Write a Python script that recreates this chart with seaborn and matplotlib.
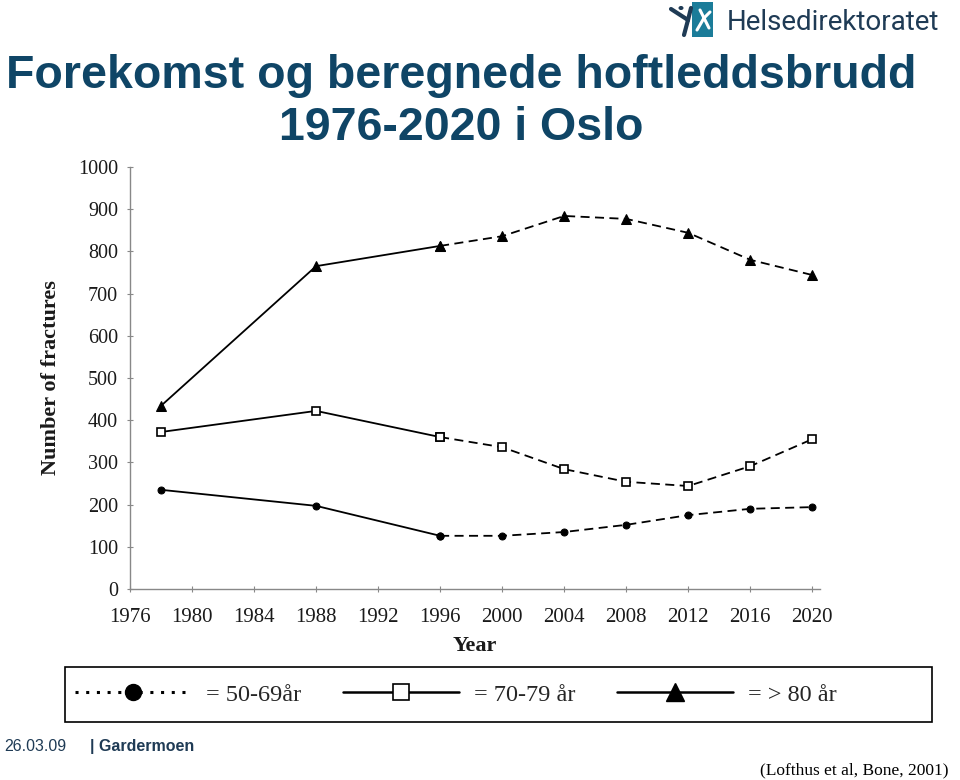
import matplotlib
matplotlib.use("Agg")
import matplotlib.pyplot as plt
import seaborn as sns
import pandas as pd
from matplotlib.lines import Line2D
from matplotlib.patches import Rectangle, Circle

# ---- data ----
years = [1978, 1988, 1996, 2000, 2004, 2008, 2012, 2016, 2020]
age_50_69 = [235, 197, 126, 126, 135, 152, 175, 190, 194]
age_70_79 = [372, 422, 360, 336, 284, 254, 244, 291, 355]
age_80_plus = [434, 765, 813, 836, 884, 877, 844, 780, 744]
last_observed_year = 1996
x_ticks = list(range(1976, 2021, 4))
y_ticks = list(range(0, 1001, 100))
legend_labels = ["= 50-69år", "= 70-79 år", "= > 80 år"]

sns.set_theme(style="white")
plt.rcParams["font.family"] = ["Liberation Sans", "DejaVu Sans"]

W, H = 960, 780
fig = plt.figure(figsize=(9.6, 7.8), dpi=100)
ax = fig.add_axes([0.1354, 0.2449, 0.7188, 0.5410])


def fx(px):
    return px / W


def fy(py):
    return 1 - py / H


NAVY = "#0f4566"
DARK = "#1f3b55"
series = [
    (age_50_69, dict(marker="o", markersize=5, markerfacecolor="black", markeredgecolor="black")),
    (age_70_79, dict(marker="s", markersize=6, markerfacecolor="white", markeredgecolor="black", markeredgewidth=1.2)),
    (age_80_plus, dict(marker="^", markersize=6.5, markerfacecolor="black", markeredgecolor="black")),
]
for vals, mk in series:
    df = pd.DataFrame({"year": years, "n": vals})
    obs = df[df.year <= last_observed_year]
    proj = df[df.year >= last_observed_year]
    sns.lineplot(data=obs, x="year", y="n", ax=ax, color="black", linewidth=1.3,
                 linestyle="-", **mk)
    sns.lineplot(data=proj, x="year", y="n", ax=ax, color="black", linewidth=1.3,
                 **mk).lines[-1].set_dashes((5, 3))

ax.set_xlim(1976, 2020.5)
ax.set_ylim(0, 1000)
ax.set_xticks(x_ticks)
ax.set_yticks(y_ticks)
serif = ["Liberation Serif", "DejaVu Serif"]
ax.set_xticklabels([str(t) for t in x_ticks], family=serif, fontsize=15, color="#1a1a1a")
ax.set_yticklabels([str(t) for t in y_ticks], family=serif, fontsize=14.5, color="#1a1a1a")
ax.set_xlabel("Year", family=serif, fontsize=16, fontweight="bold", color="#1a1a1a", labelpad=7)
ax.set_ylabel("Number of fractures", family=serif, fontsize=16, fontweight="bold",
              color="#1a1a1a", labelpad=12)
for s in ["top", "right"]:
    ax.spines[s].set_visible(False)
for s in ["left", "bottom"]:
    ax.spines[s].set_color("#888888")
    ax.spines[s].set_linewidth(1.0)
ax.tick_params(axis="both", which="major", direction="inout", length=5, width=0.8,
               color="#888888", bottom=True, left=True, pad=6)
ax.tick_params(axis="x", pad=11)

# ---- title ----
fig.text(fx(461), fy(88), "Forekomst og beregnede hoftleddsbrudd", ha="center",
         va="baseline", fontsize=33.5, fontweight="bold", color=NAVY)
fig.text(fx(461), fy(140), "1976-2020 i Oslo", ha="center",
         va="baseline", fontsize=33.5, fontweight="bold", color=NAVY)

# ---- logo ----
fig.patches.append(Rectangle((fx(692), fy(37)), fx(21), 35 / H, transform=fig.transFigure,
                             facecolor="#1b7c99", edgecolor="none"))
for (x0, y0, x1, y1) in [(671, 9, 688, 20), (688, 20, 684, 35), (688, 20, 691, 8)]:
    fig.add_artist(Line2D([fx(x0), fx(x1)], [fy(y0), fy(y1)], transform=fig.transFigure,
                          color=DARK, linewidth=3, solid_capstyle="round"))
fig.add_artist(Circle((fx(681), fy(8)), 2.5 / W, transform=fig.transFigure,
                      facecolor=DARK, edgecolor="none"))
for (x0, y0, x1, y1) in [(697, 30, 704, 18), (704, 18, 710, 12), (704, 18, 709, 28),
                         (700, 10, 704, 18)]:
    fig.add_artist(Line2D([fx(x0), fx(x1)], [fy(y0), fy(y1)], transform=fig.transFigure,
                          color="white", linewidth=2.2, solid_capstyle="round"))
fig.add_artist(Circle((fx(708), fy(8)), 2.2 / W, transform=fig.transFigure,
                      facecolor="white", edgecolor="none"))
fig.text(fx(727), fy(23), "Helsedirektoratet", ha="left", va="center", fontsize=20,
         color=DARK, family=["Roboto", "DejaVu Sans"])

# ---- legend ----
fig.patches.append(Rectangle((fx(65), fy(722)), fx(932 - 65), 55 / H, transform=fig.transFigure,
                             facecolor="white", edgecolor="black", linewidth=1.2))
handles = [
    Line2D([], [], color="black", linestyle=(0, (1, 2.5)), linewidth=2.2, marker="o",
           markersize=11.5, markerfacecolor="black", markeredgecolor="black"),
    Line2D([], [], color="black", linestyle="-", linewidth=1.8, marker="s",
           markersize=11, markerfacecolor="white", markeredgecolor="black", markeredgewidth=1.2),
    Line2D([], [], color="black", linestyle="-", linewidth=1.8, marker="^",
           markersize=13, markerfacecolor="black", markeredgecolor="black"),
]
leg = fig.legend(handles, legend_labels, loc="center left", ncol=3,
                 bbox_to_anchor=(fx(75), fy(694.5)),
                 prop={"family": serif, "size": 17.5}, frameon=False,
                 borderpad=0, borderaxespad=0, handlelength=4.8,
                 handletextpad=0.6, columnspacing=1.7, numpoints=1)

# ---- footer ----
fig.text(fx(4), fy(751), "26.03.09", fontsize=11.5, color=DARK, va="baseline")
fig.text(fx(90), fy(751), "| Gardermoen", fontsize=11.5, color=DARK,
         fontweight="bold", va="baseline")
fig.text(fx(948), fy(774), "(Lofthus et al, Bone, 2001)", ha="right", va="baseline",
         fontsize=12.5, family=serif, color="black")

fig.savefig("out.png", dpi=100)
